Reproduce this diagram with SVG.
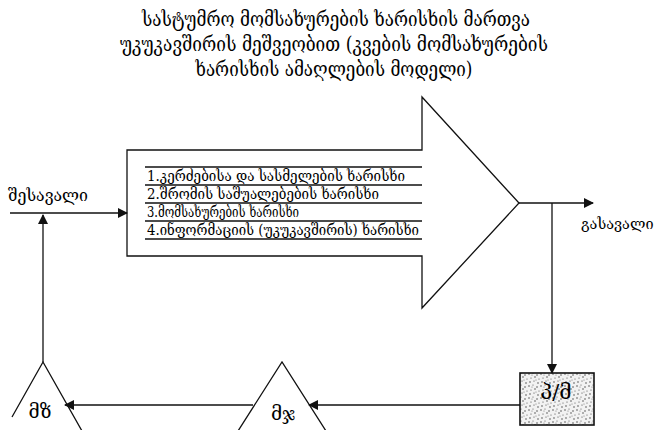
<svg xmlns="http://www.w3.org/2000/svg" width="662" height="430" viewBox="0 0 662 430">
<style>
.ln{fill:none;stroke:#111;stroke-width:1.3}
.t{font-family:"DejaVu Serif","DejaVu Sans",serif;fill:#000}
.title{font-size:19.5px}
.row{font-size:14px}
.lbl{font-size:17px}
.tri{font-size:19px}
</style>
<defs>
<marker id="ah" markerWidth="10" markerHeight="10" refX="9" refY="5" orient="auto" markerUnits="userSpaceOnUse">
<path d="M0,0 L10,5 L0,10 Z" fill="#111"/>
</marker>
<pattern id="dots" width="12" height="12" patternUnits="userSpaceOnUse">
<rect width="12" height="12" fill="#f2f2f2"/>
<circle cx="1" cy="2" r="0.7" fill="#333"/><circle cx="5" cy="1" r="0.6" fill="#555"/><circle cx="9" cy="3" r="0.7" fill="#333"/>
<circle cx="3" cy="6" r="0.6" fill="#444"/><circle cx="7" cy="5" r="0.7" fill="#333"/><circle cx="11" cy="7" r="0.6" fill="#555"/>
<circle cx="2" cy="10" r="0.7" fill="#333"/><circle cx="6" cy="9" r="0.6" fill="#444"/><circle cx="10" cy="11" r="0.7" fill="#333"/>
<circle cx="8" cy="8" r="0.5" fill="#666"/><circle cx="4" cy="3" r="0.5" fill="#666"/>
</pattern>
</defs>
<g id="title">
<text class="t title" x="336" y="26" text-anchor="middle" textLength="388" lengthAdjust="spacingAndGlyphs">სასტუმრო მომსახურების ხარისხის მართვა</text>
<text class="t title" x="334" y="51" text-anchor="middle" textLength="428" lengthAdjust="spacingAndGlyphs">უკუკავშირის მეშვეობით (კვების მომსახურების</text>
<text class="t title" x="334" y="76" text-anchor="middle" textLength="277" lengthAdjust="spacingAndGlyphs">ხარისხის ამაღლების მოდელი)</text>
</g>
<g id="process">
<path class="ln" d="M127,150 H422 V97 L519,203 L422,308 V256 H127 Z" fill="#fff"/>
<g id="table">
<line class="ln" x1="145" y1="167" x2="422" y2="167"/>
<line class="ln" x1="145" y1="185" x2="422" y2="185"/>
<line class="ln" x1="145" y1="203" x2="422" y2="203"/>
<line class="ln" x1="145" y1="221" x2="422" y2="221"/>
<line class="ln" x1="145" y1="239" x2="422" y2="239"/>
<text class="t row" x="147" y="181" textLength="258" lengthAdjust="spacingAndGlyphs">1.კერძებისა და სასმელების ხარისხი</text>
<text class="t row" x="147" y="199" textLength="232" lengthAdjust="spacingAndGlyphs">2.შრომის საშუალებების ხარისხი</text>
<text class="t row" x="147" y="217" textLength="152" lengthAdjust="spacingAndGlyphs">3.მომსახურების ხარისხი</text>
<text class="t row" x="147" y="235" textLength="272" lengthAdjust="spacingAndGlyphs">4.ინფორმაციის (უკუკავშირის) ხარისხი</text>
</g>
</g>
<g id="input">
<text class="t lbl" x="8" y="201" textLength="80" lengthAdjust="spacingAndGlyphs">შესავალი</text>
</g>
<g id="output">
<text class="t" x="581" y="229" font-size="14.5">გასავალი</text>
</g>
<g id="box">
<rect x="520" y="373" width="74" height="52" fill="url(#dots)" stroke="#111" stroke-width="1.6"/>
<text class="t" x="556" y="399" text-anchor="middle" font-size="21" font-family="DejaVu Sans, sans-serif">პ/მ</text>
</g>
<g id="tri1">
<polyline class="ln" points="12,417 43,362 82,431"/>
<text class="t tri" x="40" y="418" text-anchor="middle">მზ</text>
</g>
<g id="tri2">
<polyline class="ln" points="238,431 282,362 326,431"/>
<text class="t tri" x="283" y="420" text-anchor="middle">მჯ</text>
</g>
<g id="connectors">
<line class="ln" x1="10" y1="213" x2="127" y2="213" marker-end="url(#ah)"/>
<line class="ln" x1="519" y1="203" x2="593" y2="203" marker-end="url(#ah)"/>
<line class="ln" x1="552" y1="203" x2="552" y2="373" marker-end="url(#ah)"/>
<line class="ln" x1="520" y1="405" x2="309" y2="405" marker-end="url(#ah)"/>
<line class="ln" x1="253" y1="405" x2="65" y2="405" marker-end="url(#ah)"/>
<line class="ln" x1="43" y1="362" x2="43" y2="215" marker-end="url(#ah)"/>
</g>
</svg>
